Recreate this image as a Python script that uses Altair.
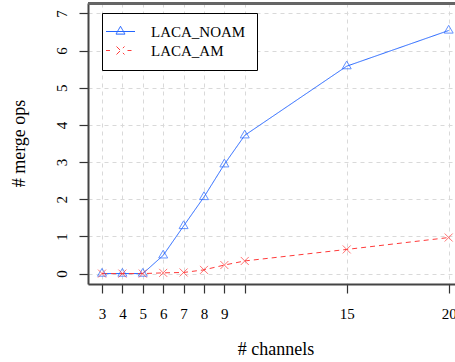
import altair as alt
import pandas as pd

channels = [3, 4, 5, 6, 7, 8, 9, 10, 15, 20]
laca_noam = [0, 0, 0, 0.49, 1.28, 2.06, 2.94, 3.72, 5.58, 6.54]
laca_am = [0, 0, 0, 0.02, 0.03, 0.10, 0.23, 0.34, 0.65, 0.97]
series_names = ["LACA_NOAM", "LACA_AM"]
x_ticks = [3, 4, 5, 6, 7, 8, 9, 10, 15, 20]
y_ticks = [0, 1, 2, 3, 4, 5, 6, 7, 7.28]

rows = []
for c, v in zip(channels, laca_noam):
    rows.append({"channels": c, "ops": v, "series": series_names[0]})
for c, v in zip(channels, laca_am):
    rows.append({"channels": c, "ops": v, "series": series_names[1]})
df = pd.DataFrame(rows)

FONT = "Liberation Serif"
BLUE = "#2264ff"
RED = "#ff3a3a"

tri = "M0,-1.04L0.9,0.52L-0.9,0.52Z"
xcross = "M-0.8,-0.8L0.8,0.8M-0.8,0.8L0.8,-0.8"
leg_tri = "M-2.9,0L2.9,0M0,-1.04L0.9,0.52L-0.9,0.52Z"
leg_x = "M-2.9,0L-2.1,0M1.4,0L2.2,0M-0.8,-0.8L0.8,0.8M-0.8,0.8L0.8,-0.8"

xscale = alt.Scale(domain=[2.313, 20.31], nice=False, zero=False)
yscale = alt.Scale(domain=[-0.28, 7.28], nice=False, zero=False)
color = alt.Color(
    "series:N",
    scale=alt.Scale(domain=series_names, range=[BLUE, RED]),
    legend=alt.Legend(
        title=None, orient="none", legendX=14, legendY=10,
        symbolType={"expr": "datum.value === 'LACA_NOAM' ? '%s' : '%s'" % (leg_tri, leg_x)},
        symbolSize=100, symbolStrokeWidth=1, symbolFillColor="transparent",
        labelFont=FONT, labelFontSize=15, labelColor="black", labelOffset=23,
        padding=11, rowPadding=3, strokeColor="black", fillColor="white",
    ),
)

is_top = "datum.value > 7.2"

xaxis = alt.Axis(
    values=x_ticks, title="# channels", labelExpr="datum.value == 10 ? '' : datum.label",
    grid=True, gridDash=[4, 4], gridColor="#d9d9d9", gridWidth=1,
    domainColor="#444", domainWidth=2, tickColor="#333", tickWidth=1.2, tickSize=9,
    labelFont=FONT, labelFontSize=15, labelColor="black", labelPadding=25,
    labelBaseline="alphabetic", labelFlush=False, labelOverlap=False,
    titleFont=FONT, titleFontSize=18, titleFontWeight="normal", titleColor="black",
    titleX=187.5, titleY=70, titleBaseline="alphabetic", titleAlign="center",
)
yaxis = alt.Axis(
    values=y_ticks, title="# merge ops",
    labelExpr="datum.value > 7.2 ? '' : datum.label",
    grid=True,
    gridDash={"condition": {"test": is_top, "value": [1, 0]}, "value": [4, 4]},
    gridColor={"condition": {"test": is_top, "value": "#666666"}, "value": "#d9d9d9"},
    gridWidth={"condition": {"test": is_top, "value": 1.5}, "value": 1},
    tickOpacity={"condition": {"test": is_top, "value": 0}, "value": 1},
    domainColor="#444", domainWidth=2, tickColor="#333", tickWidth=1.2, tickSize=9,
    labelFont=FONT, labelFontSize=15, labelColor="black", labelPadding=13,
    labelAngle=-90, labelAlign="center", labelBaseline="alphabetic",
    labelFlush=False, labelOverlap=False,
    titleFont=FONT, titleFontSize=18, titleFontWeight="normal", titleColor="black",
    titleAngle=270, titleX=-64, titleY=140, titleBaseline="alphabetic", titleAlign="center",
)

lines = alt.Chart(df).transform_calculate(dash="datum.series").mark_line(strokeWidth=1).encode(
    x=alt.X("channels:Q", scale=xscale, axis=xaxis),
    y=alt.Y("ops:Q", scale=yscale, axis=yaxis),
    color=color,
    strokeDash=alt.StrokeDash("dash:N", scale=alt.Scale(domain=series_names, range=[[1, 0], [5, 4]]), legend=None),
)

pts_noam = alt.Chart(df).transform_filter(
    alt.datum.series == series_names[0]
).mark_point(filled=False, strokeWidth=1, size=100, shape=tri, color=BLUE).encode(
    x=alt.X("channels:Q", scale=xscale, axis=xaxis),
    y=alt.Y("ops:Q", scale=yscale, axis=yaxis),
)
pts_am = alt.Chart(df).transform_filter(
    alt.datum.series == series_names[1]
).mark_point(filled=False, strokeWidth=1, size=100, shape=xcross, color=RED).encode(
    x=alt.X("channels:Q", scale=xscale, axis=xaxis),
    y=alt.Y("ops:Q", scale=yscale, axis=yaxis),
)

top_border = alt.Chart(df).mark_rule(color="#666", strokeWidth=1.5).encode(
    x=alt.value(0), x2=alt.value(367), y=alt.value(0.5)
)

chart = alt.layer(lines, pts_noam, pts_am, top_border).properties(
    width=367, height=281,
    autosize=alt.AutoSizeParams(type="none"),
    padding={"left": 88, "top": 3, "right": 0, "bottom": 78},
).configure_view(stroke=None).configure(background="white")

chart.save("out.html", embed_options={"renderer": "svg", "actions": False})
